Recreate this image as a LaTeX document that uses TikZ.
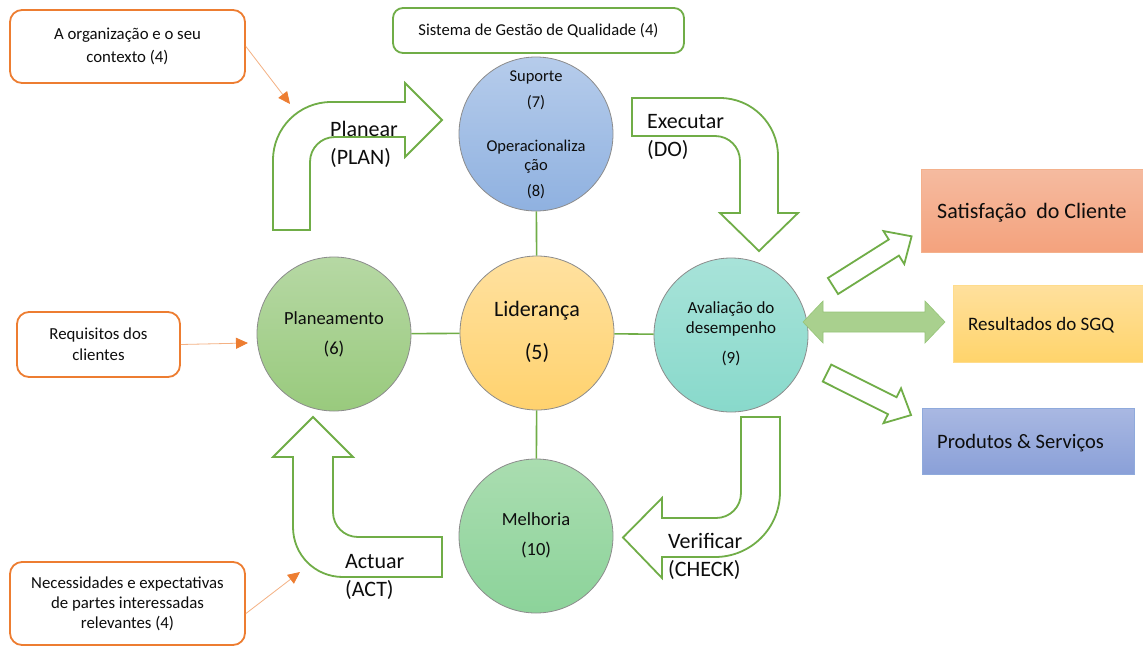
\documentclass[tikz,border=0pt]{standalone}
\usepackage{fontspec}
\setmainfont{Carlito}
\usetikzlibrary{arrows.meta}

\definecolor{qgreen}{HTML}{70AD47}
\definecolor{qorange}{HTML}{ED7D31}
\definecolor{qorangeline}{HTML}{F4B183}
\definecolor{ink}{HTML}{0D0D0D}
% circle fills (top / bottom)
\definecolor{supTop}{RGB}{182,204,235}
\definecolor{supBot}{RGB}{143,177,224}
\definecolor{lidTop}{RGB}{255,225,160}
\definecolor{lidBot}{RGB}{255,210,110}
\definecolor{plaTop}{RGB}{182,216,164}
\definecolor{plaBot}{RGB}{153,202,125}
\definecolor{avaTop}{RGB}{168,227,217}
\definecolor{avaBot}{RGB}{136,217,203}
\definecolor{melTop}{RGB}{170,221,176}
\definecolor{melBot}{RGB}{140,211,154}
% outcome boxes
\definecolor{satTop}{RGB}{245,187,160}
\definecolor{satBot}{RGB}{244,162,125}
\definecolor{satLine}{RGB}{244,177,140}
\definecolor{resTop}{RGB}{255,224,157}
\definecolor{resBot}{RGB}{255,212,107}
\definecolor{resLine}{RGB}{255,220,140}
\definecolor{proTop}{RGB}{169,184,226}
\definecolor{proBot}{RGB}{138,160,216}
\definecolor{proLine}{RGB}{143,170,220}
\definecolor{dblFill}{RGB}{169,208,142}
\definecolor{dblLine}{RGB}{150,196,120}

\newcommand\fsz[2]{\fontsize{#1}{#2}\selectfont}

\tikzset{
  circ/.style={circle, draw=black!45, line width=0.8pt, minimum size=154pt, inner sep=0pt},
  txt/.style={inner sep=0pt, align=center, text=ink},
  obox/.style={draw=qorange, line width=1.8pt, rounded corners=12pt, fill=white, inner sep=0pt, align=center, text=ink},
  gbox/.style={draw=qgreen, line width=1.8pt, rounded corners=10pt, fill=white, inner sep=0pt, text=ink},
  rbox/.style={draw=#1, line width=1pt, inner sep=0pt},
  link/.style={draw=qgreen, line width=1.6pt},
  block/.style={draw=qgreen, line width=1.8pt, fill=white, line join=miter},
  ctxarrow/.style={draw=qorangeline, line width=0.8pt, -{Triangle[length=12pt,width=11pt,color=qorange,fill=qorange]}},
  flowlbl/.style={inner sep=0pt, align=left, anchor=west, text=ink, font=\fsz{22}{28}}
}

\begin{document}
\begin{tikzpicture}[x=1pt, y=-1pt]
\clip (0,0) rectangle (1143,646);
\fill[white] (0,0) rectangle (1143,646);

% context boxes
\node[obox, minimum width=235pt, minimum height=73pt, font=\fsz{16.8}{23}] (ctx) at (127.5,46.5) {A organização e o seu\\contexto (4)};
\node[obox, minimum width=163pt, minimum height=65pt, font=\fsz{16.8}{21}] (req) at (98.5,344.5) {Requisitos dos\\clientes};
\node[obox, minimum width=235pt, minimum height=83pt, font=\fsz{16.8}{20}] (nee) at (127.5,603.5) {Necessidades e expectativas\\de partes interessadas\\relevantes (4)};
\node[gbox, minimum width=291pt, minimum height=45pt, font=\fsz{16.6}{20}] (sgq) at (538.5,30.5) {Sistema de Gestão de Qualidade (4)};

\coordinate (ctxTip) at (290,104);
\coordinate (reqTip) at (248,343);
\coordinate (neeTip) at (300,572);
\draw[ctxarrow] (ctx.east) -- (ctxTip);
\draw[ctxarrow] (req.east) -- (reqTip);
\draw[ctxarrow] ([yshift=-10pt]nee.east) -- (neeTip);

% process circles
\node[circ, top color=supTop, bottom color=supBot] (sup) at (536,134) {};
\node[circ, top color=lidTop, bottom color=lidBot] (lid) at (537,333) {};
\node[circ, top color=plaTop, bottom color=plaBot] (pla) at (334,334) {};
\node[circ, top color=avaTop, bottom color=avaBot] (ava) at (731,335) {};
\node[circ, top color=melTop, bottom color=melBot] (mel) at (536,536) {};

\draw[link] (sup) -- (lid);
\draw[link] (lid) -- (mel);
\draw[link] (pla) -- (lid);
\draw[link] (lid) -- (ava);

\node[txt, font=\fsz{16.5}{19}] (supT) at (536,134.5) {Suporte\\[7pt](7)\\[25pt]Operacionaliza\\ção\\[7pt](8)};
\node[txt, font=\fsz{22}{26}] (lidT) at (537,331.5) {Liderança\\[17pt](5)};
\node[txt, font=\fsz{18.5}{22}] (plaT) at (334,334.5) {Planeamento\\[8pt](6)};
\node[txt, font=\fsz{17}{20}] (avaT) at (731,334) {Avaliação do\\desempenho\\[10pt](9)};
\node[txt, font=\fsz{18.5}{22}] (melT) at (536,535) {Melhoria\\[8pt](10)};

% PDCA block arrows
\draw[block] (273,230) -- (273,160) .. controls (273,128) and (299,102) .. (331,102)
  -- (405,102) -- (405,83) -- (442,120) -- (405,157) -- (405,137) -- (335,137)
  .. controls (321,137) and (310,148) .. (310,162) -- (310,230) -- cycle;
\draw[block] (632,98) -- (720,98) .. controls (752,98) and (778,124) .. (778,156)
  -- (778,213) -- (798,213) -- (759,251) -- (720,213) -- (740,213) -- (740,161)
  .. controls (740,147) and (729,136) .. (715,136) -- (632,136) -- cycle;
\draw[block] (741,417) -- (780,417) -- (780,492) .. controls (780,528) and (751,557) .. (715,557)
  -- (662,557) -- (662,578) -- (623,537.5) -- (662,498) -- (662,518) -- (716,518)
  .. controls (730,518) and (741,507) .. (741,493) -- cycle;
\draw[block] (313,417) -- (353,457) -- (333,457) -- (333,512)
  .. controls (333,526) and (344,537) .. (358,537) -- (442,537) -- (442,577) -- (343,577)
  .. controls (315,577) and (293,555) .. (293,527) -- (293,457) -- (273,457) -- cycle;

\node[flowlbl] (planL) at (330,144) {Planear\\(PLAN)};
\node[flowlbl] (doL) at (647,137) {Executar\\(DO)};
\node[flowlbl] (chkL) at (668,556) {Verificar\\(CHECK)};
\node[flowlbl] (actL) at (345,577) {Actuar\\(ACT)};

% outcome boxes
\node[rbox=satLine, minimum width=225pt, minimum height=83pt, top color=satTop, bottom color=satBot] (sat) at (1033.5,210.5) {};
\node[rbox=resLine, minimum width=193pt, minimum height=77pt, top color=resTop, bottom color=resBot] (res) at (1049.5,323.5) {};
\node[rbox=proLine, minimum width=212pt, minimum height=66pt, top color=proTop, bottom color=proBot] (pro) at (1028,441) {};
\node[txt, anchor=west, font=\fsz{22}{26}] (satT) at (937,213) {Satisfação\ \ do Cliente};
\node[txt, anchor=west, font=\fsz{19}{22}] (resT) at (968,325) {Resultados do SGQ};
\node[txt, anchor=west, font=\fsz{20.5}{24}] (proT) at (937,443) {Produtos \& Serviços};

% outputs of performance evaluation
\begin{scope}[shift={(833,286)}, rotate=32.3]
  \draw[block] (0,-9.5) -- (72,-9.5) -- (72,-19.5) -- (93,0) -- (72,19.5) -- (72,9.5) -- (0,9.5) -- cycle;
\end{scope}
\begin{scope}[shift={(827,373)}, rotate=-26.6]
  \draw[block] (0,-9.5) -- (73,-9.5) -- (73,-19.5) -- (94,0) -- (73,19.5) -- (73,9.5) -- (0,9.5) -- cycle;
\end{scope}
\filldraw[fill=dblFill, draw=dblLine, line width=0.6pt]
  (803,322) -- (823,301) -- (823,312) -- (925,312) -- (925,301) -- (945,322)
  -- (925,343) -- (925,332) -- (823,332) -- (823,343) -- cycle;
\end{tikzpicture}
\end{document}
